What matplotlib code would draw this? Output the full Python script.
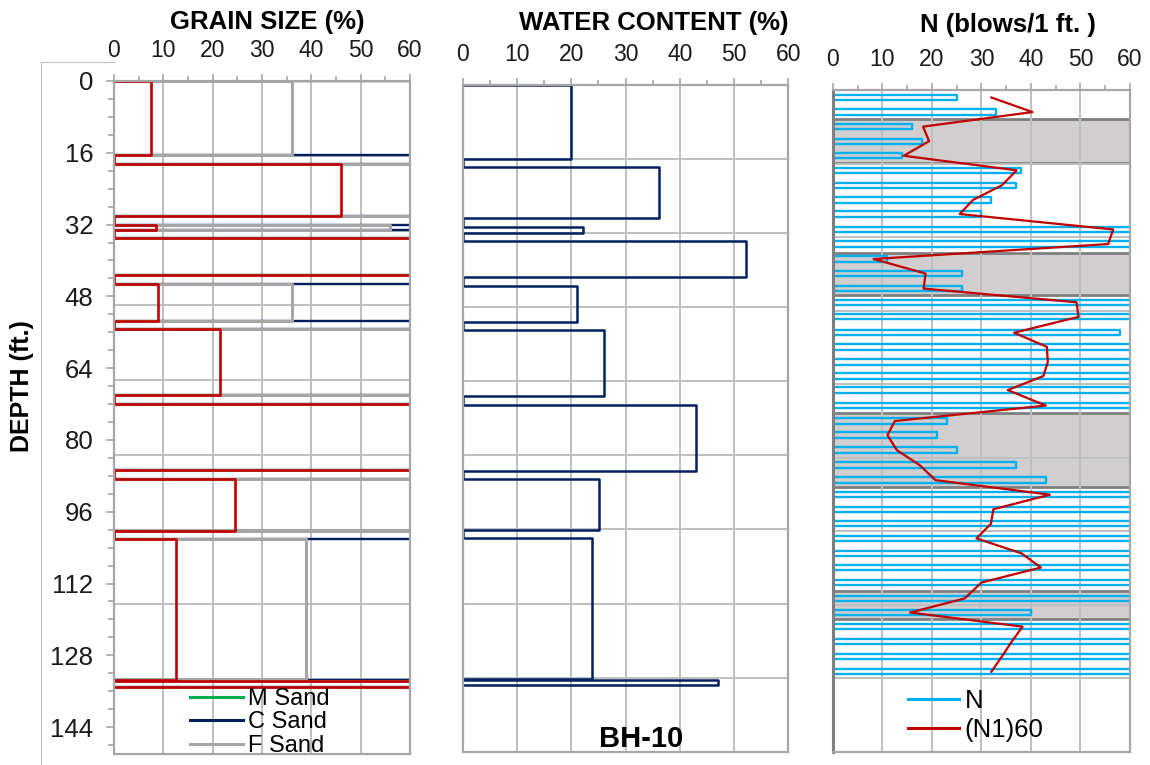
import numpy as np
import matplotlib.pyplot as plt
from matplotlib.lines import Line2D
from matplotlib.patches import Rectangle

plt.rcParams['font.family'] = ['Liberation Sans', 'DejaVu Sans']

# =====================
# Data (depth in ft)
# =====================
# soil layers shared by grain size and water content
layer_top = [0, 18.5, 32.0, 35.1, 45.2, 55.2, 71.9, 88.6, 102.0, 133.8]
layer_bot = [16.6, 30.0, 33.3, 43.3, 53.4, 70.0, 86.8, 100.2, 133.6, 135.0]

# grain size (%) per layer
fines = [7.5, 46, 8.5, 100, 9, 21.5, 100, 24.5, 12.5, 100]
f_sand = [28.5, 54, 47.5, 0, 27, 78.5, 0, 75.5, 26.5, 0]
m_sand = [0, 0, 0, 0, 0, 0, 0, 0, 0, 0]
c_sand = [64, 0, 44, 0, 64, 0, 0, 0, 61, 0]

# water content (%) per layer
water = [20, 36.2, 22.1, 52.2, 21, 26, 43, 25.1, 23.9, 47]

# SPT blow counts
spt_depth = [1.7, 5.0, 8.3, 11.6, 14.9, 18.2, 21.6, 24.9, 28.1, 31.6,
             34.9, 38.3, 41.6, 45.0, 48.1, 51.4, 55.0, 58.2, 61.6, 64.8,
             68.0, 71.5, 75.0, 78.2, 81.6, 85.0, 88.4, 91.7, 95.0, 98.3,
             101.6, 105.0, 108.2, 111.6, 115.2, 118.4, 121.6, 125.0, 128.4, 131.8]
n_blows = [25, 33, 16, 18, 14, 38, 37, 32, 30, 100,
           100, 11, 26, 26, 100, 100, 58, 100, 100, 100,
           100, 100, 23, 21, 25, 37, 43, 100, 100, 100,
           100, 100, 100, 100, 100, 40, 100, 100, 100, 100]
n1_60 = [32, 40.3, 18.2, 19.4, 14.3, 37.1, 34.1, 28.3, 25.6, 56.6,
         55.6, 8.2, 18.7, 18.3, 49.2, 49.6, 36.6, 43.2, 43.4, 42.5,
         35.3, 43.0, 12.5, 11.0, 12.9, 17.5, 20.7, 43.8, 32.4, 31.9,
         29.0, 38.1, 42.0, 30.0, 26.6, 15.6, 38.3, 36.1, 34.1, 32.0]

# shaded zones on the N panel
zone_top = [6.5, 36.9, 73.3, 113.5]
zone_bot = [16.6, 46.5, 90.0, 119.9]

depth_ticks = list(range(0, 145, 16))

RED = '#c00000'
NAVY = '#002060'
GRAY = '#a6a6a6'
GREEN = '#00b050'
CYAN = '#00b0f0'
GRID = '#bfbfbf'
BAR_HALF = 0.6


def step_path(tops, bots, vals):
    xs, ys = [], []
    for t, b, v in zip(tops, bots, vals):
        xs += [0, v, v, 0]
        ys += [t, t, b, b]
    return xs, ys


W, H = 1150, 765
fig = plt.figure(figsize=(W / 100, H / 100), dpi=100)


def pos(x0, x1, y0, y1):
    return [x0 / W, 1 - y1 / H, (x1 - x0) / W, (y1 - y0) / H]


ax1 = fig.add_axes(pos(114, 410, 81, 754))
ax2 = fig.add_axes(pos(462.7, 788.3, 85, 751.7))
ax3 = fig.add_axes(pos(833, 1130, 90, 752))

for ax in (ax1, ax2, ax3):
    ax.set_xlim(0, 60)
    ax.set_ylim(150, 0)
    ax.xaxis.tick_top()
    ax.set_xticks(range(0, 61, 10))
    ax.set_xticks(range(5, 60, 10), minor=True)
    ax.tick_params(axis='x', which='major', direction='out', length=5,
                   width=1.2, color=GRAY, labelsize=16.5, pad=9,
                   labelcolor='#1a1a1a')
    ax.tick_params(axis='x', which='minor', direction='out', length=3.5,
                   width=1.2, color=GRAY)
    ax.set_axisbelow(True)
    ax.grid(axis='x', color=GRID, lw=1.4)
    for g in np.linspace(0, 150, 10)[1:-1]:
        ax.axhline(g, color=GRID, lw=1.4, zorder=0.5)
    for s in ax.spines.values():
        s.set_color(GRAY)
        s.set_linewidth(1.6)
        s.set_zorder(4)

# =====================
# Grain size
# =====================
cum_f = np.array(fines)
cum_fs = cum_f + np.array(f_sand)
cum_ms = cum_fs + np.array(m_sand)
cum_cs = cum_ms + np.array(c_sand)

h_c, = ax1.plot(*step_path(layer_top, layer_bot, cum_cs), color=NAVY, lw=1.7,
                label='C Sand', zorder=2)
h_m, = ax1.plot(*step_path(layer_top, layer_bot, cum_ms), color=GREEN, lw=0.6,
                label='M Sand', zorder=2.1)
h_f, = ax1.plot(*step_path(layer_top, layer_bot, cum_fs), color=GRAY, lw=2.2,
                label='F Sand', zorder=2.2)
ax1.plot(*step_path(layer_top, layer_bot, cum_f), color=RED, lw=1.9, zorder=2.3)

ax1.set_yticks(depth_ticks)
ax1.set_yticks(range(0, 151, 4), minor=True)
ax1.tick_params(axis='y', which='major', direction='out', length=6, width=1.2,
                color=GRAY, labelsize=18.5, pad=9, labelcolor='#1a1a1a')
ax1.tick_params(axis='y', which='minor', direction='out', length=4, width=1.2,
                color=GRAY)
leg1 = ax1.legend(handles=[h_m, h_c, h_f], loc='upper left', frameon=False,
                  bbox_to_anchor=(190 / W, 1 - 688 / H),
                  bbox_transform=fig.transFigure, fontsize=17, borderpad=0,
                  borderaxespad=0, handlelength=2.25, handletextpad=0.2,
                  labelspacing=0.06)
for ln in leg1.get_lines():
    ln.set_linewidth(2.2)

# =====================
# Water content
# =====================
ax2.plot(*step_path(layer_top, layer_bot, water), color=NAVY, lw=1.8, zorder=2)
ax2.tick_params(axis='y', left=False, labelleft=False)

# =====================
# SPT N
# =====================
for t, b in zip(zone_top, zone_bot):
    ax3.add_patch(Rectangle((0, t), 60, b - t, facecolor='#d0cece',
                            edgecolor='#7f7f7f', lw=2.0, zorder=0.3))
bar_top = [d - BAR_HALF for d in spt_depth]
bar_bot = [d + BAR_HALF for d in spt_depth]
ax3.plot(*step_path(bar_top, bar_bot, n_blows), color=CYAN, lw=1.7,
         label='N', zorder=2)
ax3.plot(n1_60, spt_depth, color=RED, lw=1.6, label='(N1)60', zorder=3)
ax3.tick_params(axis='y', left=False, labelleft=False)
ax3.spines['left'].set_color('#7f7f7f')
ax3.spines['left'].set_linewidth(2.2)
leg3 = ax3.legend(loc='upper left', frameon=False,
                  bbox_to_anchor=(908 / W, 1 - 689 / H),
                  bbox_transform=fig.transFigure, fontsize=18.5, borderpad=0,
                  borderaxespad=0, handlelength=2.0, handletextpad=0.2,
                  labelspacing=0.2)
for ln in leg3.get_lines():
    ln.set_linewidth(2.2)

# =====================
# Text
# =====================
fig.text(267 / W, 1 - 22 / H, 'GRAIN SIZE (%)', ha='center', va='center',
         fontsize=18.5, weight='bold')
fig.text(654 / W, 1 - 23 / H, 'WATER CONTENT (%)', ha='center', va='center',
         fontsize=18.5, weight='bold')
fig.text(1008 / W, 1 - 25 / H, 'N (blows/1 ft. )', ha='center', va='center',
         fontsize=18.5, weight='bold')
fig.text(641 / W, 1 - 739 / H, 'BH-10', ha='center', va='center',
         fontsize=21, weight='bold')
fig.text(22 / W, 1 - 386 / H, 'DEPTH (ft.)', ha='center', va='center',
         rotation=90, fontsize=18, weight='bold')

# thin frame around the left label area
fig.add_artist(Line2D([40.7 / W, 40.7 / W, 114 / W], [0, 1 - 62 / H, 1 - 62 / H],
                      color='#bfbfbf', lw=0.8))

fig.savefig('out.png', dpi=100)
